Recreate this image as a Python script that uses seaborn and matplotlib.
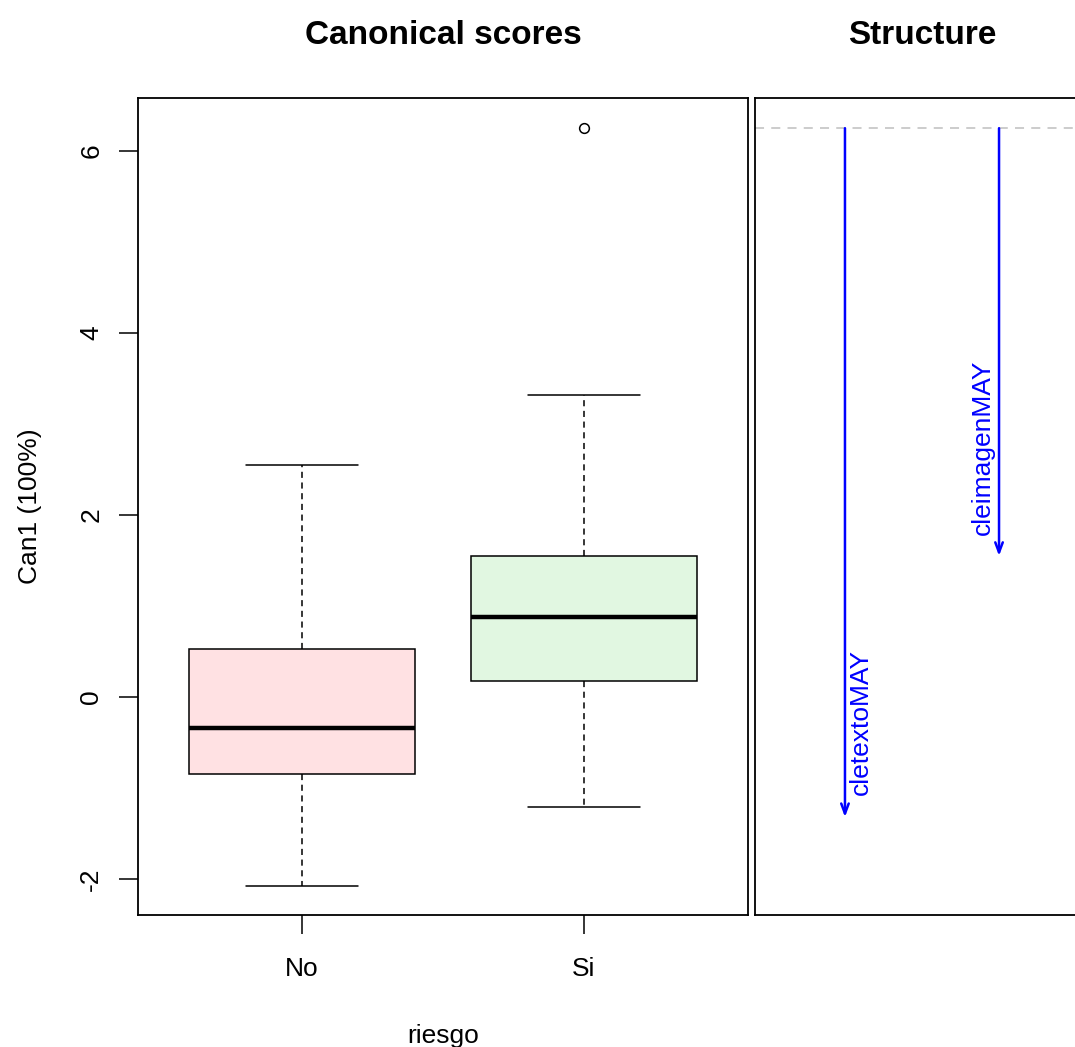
import numpy as np
import pandas as pd
import matplotlib
matplotlib.use("Agg")
import matplotlib.pyplot as plt
import seaborn as sns

# five-number summaries (Can1 scores)
groups = ["No", "Si"]
lower_whisker = [-2.08, -1.21]
q1 = [-0.85, 0.18]
median = [-0.34, 0.88]
q3 = [0.53, 1.55]
upper_whisker = [2.55, 3.32]
outliers = [[], [6.25]]

# structure panel
variables = ["cletextoMAY", "cleimagenMAY"]
struct_origin = 6.25
struct_ends = [-1.32, 1.55]

box_colors = {"No": "#FFE1E3", "Si": "#E1F7E1"}

# rebuild a small sample per group that reproduces the summaries
rows = []
for i, g in enumerate(groups):
    if outliers[i]:
        vals = [lower_whisker[i], q1[i], q1[i], median[i], median[i],
                q3[i], q3[i], upper_whisker[i]] + outliers[i]
    else:
        vals = [lower_whisker[i], q1[i], median[i], q3[i], upper_whisker[i]]
    for v in vals:
        rows.append({"riesgo": g, "Can1": v})
df = pd.DataFrame(rows)

sns.set_style("ticks")
plt.rcParams["font.family"] = ["Liberation Sans", "DejaVu Sans"]
plt.rcParams["text.color"] = "black"
plt.rcParams["axes.labelcolor"] = "black"

W, H = 1075, 1047
fig = plt.figure(figsize=(W / 100, H / 100), dpi=100)

bottom = (H - 915) / H
height = (915 - 98) / H
ax = fig.add_axes([138 / W, bottom, 610 / W, height])
ax2 = fig.add_axes([755 / W, bottom, 334 / W, height])

sns.boxplot(data=df, x="riesgo", y="Can1", hue="riesgo", order=groups,
            palette=box_colors, saturation=1, width=0.8, whis=1.5,
            linecolor="black", linewidth=1.1, legend=False, ax=ax,
            whiskerprops=dict(linestyle=(0, (4, 3))),
            medianprops=dict(linewidth=3.2, color="black"),
            flierprops=dict(marker="o", markersize=7, markerfacecolor="none",
                            markeredgecolor="black", markeredgewidth=1.1))

ymin, ymax = -2.396, 6.582
ax.set_ylim(ymin, ymax)
ax.set_xlim(-0.582, 1.582)
ax.set_yticks([-2, 0, 2, 4, 6])
ax.set_yticklabels(["-2", "0", "2", "4", "6"], rotation=90, va="center")
ax.tick_params(axis="both", direction="out", length=14, width=1.1,
               labelsize=19, colors="black")
ax.tick_params(axis="y", pad=11)
ax.tick_params(axis="x", pad=16)
ax.set_xlabel("riesgo", fontsize=19, labelpad=31)
ax.set_ylabel("Can1 (100%)", fontsize=19, labelpad=27)
ax.set_title("Canonical scores", fontsize=24, fontweight="bold", pad=39)

for a in (ax, ax2):
    for s in a.spines.values():
        s.set_visible(True)
        s.set_linewidth(1.3)
        s.set_color("black")

# structure panel
ax2.set_ylim(ymin, ymax)
ax2.set_xlim(0.416, 2.584)
ax2.set_xticks([])
ax2.set_yticks([])
ax2.axhline(struct_origin, color="#C8C8C8", linestyle=(0, (5, 4)), linewidth=1.3)
for i, (name, end) in enumerate(zip(variables, struct_ends)):
    xpos = i + 1
    ax2.annotate("", xy=(xpos, end), xytext=(xpos, struct_origin),
                 arrowprops=dict(arrowstyle="->,head_length=0.4,head_width=0.15",
                                 color="blue", lw=1.8, mutation_scale=18,
                                 shrinkA=0, shrinkB=0))
    if i == 0:
        ax2.annotate(name, xy=(xpos, end), xytext=(4, 22),
                     textcoords="offset pixels", rotation=90, ha="left",
                     va="bottom", color="blue", fontsize=19)
    else:
        ax2.annotate(name, xy=(xpos, end), xytext=(-4, 21),
                     textcoords="offset pixels", rotation=90, ha="right",
                     va="bottom", color="blue", fontsize=19)
ax2.set_title("Structure", fontsize=24, fontweight="bold", pad=39)

fig.savefig("out.png", dpi=100)
